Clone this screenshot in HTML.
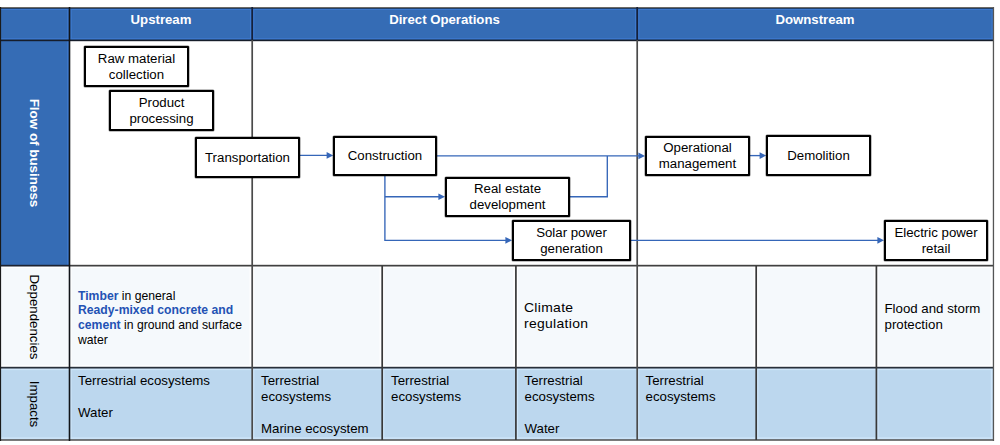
<!DOCTYPE html>
<html><head><meta charset="utf-8">
<style>
html,body{margin:0;padding:0;}
body{width:1000px;height:445px;position:relative;overflow:hidden;background:#fff;font-family:"Liberation Sans",sans-serif;color:#000;}
.a{position:absolute;}
.bg{position:absolute;}
.ln{position:absolute;background:#4a4a4a;}
.dk{background:#1b2233;}
.box{position:absolute;box-sizing:border-box;border:2px solid #000;background:#fff;display:flex;align-items:center;justify-content:center;text-align:center;font-size:13.25px;line-height:16px;border-radius:1px;box-shadow:0 0 0 0.5px rgba(0,0,0,.5);}
.hd{position:absolute;top:12px;height:16px;line-height:16px;color:#fff;font-weight:bold;font-size:13.2px;text-align:center;white-space:nowrap;}
.rot{position:absolute;height:16px;line-height:16px;text-align:center;white-space:nowrap;transform:rotate(90deg);}
.tx{position:absolute;font-size:13.28px;line-height:15.9px;white-space:nowrap;}
.b{color:#2352b4;font-weight:bold;}
</style></head><body>
<!-- backgrounds -->
<div class="bg" style="left:0;top:7px;width:994px;height:33px;background:#356cb5"></div>
<div class="bg" style="left:0;top:40px;width:70px;height:226px;background:#356cb5"></div>
<div class="bg" style="left:0;top:266px;width:994px;height:102px;background:#f5f9fc"></div>
<div class="bg" style="left:0;top:368px;width:994px;height:72px;background:#bcd7ee"></div>

<!-- grid lines -->
<svg class="a" style="left:0;top:0" width="1000" height="445" viewBox="0 0 1000 445">
<!-- dep row white bands / impacts highlight -->
<g fill="#ffffff">
<rect x="0" y="266.4" width="993" height="1.6"/>
<rect x="70.2" y="266" width="1.4" height="101"/>
<rect x="249.6" y="266" width="1.4" height="101"/>
<rect x="253" y="266" width="1.3" height="101"/>
<rect x="379.6" y="266" width="1.4" height="101"/>
<rect x="383" y="266" width="1.3" height="101"/>
<rect x="513.3" y="266" width="1.4" height="101"/>
<rect x="516.8" y="266" width="1.3" height="101"/>
<rect x="634.6" y="266" width="1.4" height="101"/>
<rect x="638" y="266" width="1.3" height="101"/>
<rect x="753.6" y="266" width="1.4" height="101"/>
<rect x="757" y="266" width="1.3" height="101"/>
<rect x="873.8" y="266" width="1.4" height="101"/>
<rect x="877.2" y="266" width="1.3" height="101"/>
<rect x="990.6" y="266" width="1.8" height="101"/>
<rect x="0" y="365.2" width="993" height="1.4"/>
</g>
<g fill="#cfe6fa">
<rect x="0" y="368.5" width="993" height="1.6"/>
<rect x="70.2" y="368" width="1.4" height="71"/>
<rect x="253" y="368" width="1.3" height="71"/>
<rect x="383" y="368" width="1.3" height="71"/>
<rect x="516.8" y="368" width="1.3" height="71"/>
<rect x="638" y="368" width="1.3" height="71"/>
<rect x="757" y="368" width="1.3" height="71"/>
<rect x="877.2" y="368" width="1.3" height="71"/>
<rect x="990.8" y="368" width="1.6" height="71"/>
<rect x="0" y="437.4" width="993" height="1.4"/>
</g>
<!-- header highlight -->
<g fill="#3d79cf">
<rect x="0" y="9" width="993" height="1"/>
<rect x="0" y="38.2" width="993" height="1.2"/>
<rect x="67.2" y="9" width="1.2" height="30"/>
<rect x="70.5" y="9" width="1.2" height="30"/>
<rect x="67.2" y="41" width="1.2" height="224"/>
<rect x="250" y="9" width="1.2" height="30"/>
<rect x="253.2" y="9" width="1.2" height="30"/>
<rect x="635" y="9" width="1.2" height="30"/>
<rect x="638.2" y="9" width="1.2" height="30"/>
<rect x="991.5" y="9" width="1.2" height="30"/>
</g>
<!-- top edge -->
<rect x="0" y="7" width="994" height="1" fill="#6c6a66"/>
<rect x="0" y="8" width="994" height="1" fill="#22406a"/>
<!-- horizontals -->
<rect x="0" y="39.6" width="994" height="1.6" fill="#161d2a"/>
<rect x="0" y="264.8" width="70" height="1.7" fill="#1c2230"/>
<rect x="70" y="264.8" width="924" height="1.7" fill="#404040"/>
<rect x="0" y="366.8" width="994" height="1.7" fill="#28303a"/>
<rect x="0" y="439.2" width="994" height="1.6" fill="#5a5a5a"/>
<!-- verticals -->
<rect x="0" y="7" width="1.1" height="434" fill="#1a1a1a"/>
<rect x="68.7" y="7" width="1.6" height="434" fill="#111418"/>
<rect x="251.35" y="7" width="1.7" height="33" fill="#15203a"/>
<rect x="636.35" y="7" width="1.7" height="33" fill="#15203a"/>
<rect x="251.35" y="40" width="1.7" height="400" fill="#4a4a4a"/>
<rect x="636.35" y="40" width="1.7" height="400" fill="#4a4a4a"/>
<rect x="992.8" y="7" width="1.3" height="434" fill="#555"/>
<rect x="381.35" y="266" width="1.7" height="174" fill="#383838"/>
<rect x="515.05" y="266" width="1.7" height="174" fill="#383838"/>
<rect x="755.35" y="266" width="1.7" height="174" fill="#383838"/>
<rect x="875.55" y="266" width="1.7" height="174" fill="#383838"/>
</svg>

<!-- header text -->
<div class="hd" style="left:70px;width:182px">Upstream</div>
<div class="hd" style="left:252px;width:385px">Direct Operations</div>
<div class="hd" style="left:637px;width:356px">Downstream</div>

<!-- row labels -->
<div class="rot" style="left:-26px;top:145px;width:120px;color:#fff;font-weight:bold;font-size:13.4px">Flow of business</div>
<div class="rot" style="left:-25.6px;top:309px;width:120px;font-size:13.3px">Dependencies</div>
<div class="rot" style="left:-26px;top:396px;width:120px;font-size:13.3px">Impacts</div>

<!-- connectors -->
<svg class="a" style="left:0;top:0" width="1000" height="445" viewBox="0 0 1000 445">
<g stroke="#3566b8" stroke-width="1.35" fill="none">
<path d="M300 155.3 L328 155.4"/>
<path d="M437 155.9 L640 155.9"/>
<path d="M384.9 175 L384.9 240.35 L507 240.35"/>
<path d="M384.9 196.7 L440 196.7"/>
<path d="M569 196.7 L607.3 196.7 L607.3 155.9"/>
<path d="M631 240.35 L879 240.35"/>
<path d="M749 155.6 L761 155.6"/>
</g>
<g fill="#3566b8">
<path d="M326.6 152 L333.2 155.4 L326.6 158.8 Z"/>
<path d="M638.4 152.6 L645 155.9 L638.4 159.2 Z"/>
<path d="M438.4 193.4 L445 196.7 L438.4 200 Z"/>
<path d="M505.4 237 L512 240.35 L505.4 243.7 Z"/>
<path d="M877.4 237 L884 240.35 L877.4 243.7 Z"/>
<path d="M759.6 152.3 L766.2 155.6 L759.6 158.9 Z"/>
</g>
</svg>

<!-- boxes -->
<div class="box" style="left:84px;top:46px;width:105px;height:41px">Raw material<br>collection</div>
<div class="box" style="left:109px;top:90px;width:105px;height:41px">Product<br>processing</div>
<div class="box" style="left:195px;top:137px;width:105px;height:41px">Transportation</div>
<div class="box" style="left:333px;top:136px;width:104px;height:40px">Construction</div>
<div class="box" style="left:445px;top:177px;width:125px;height:40px">Real estate<br>development</div>
<div class="box" style="left:512px;top:220px;width:119px;height:41px">Solar power<br>generation</div>
<div class="box" style="left:645px;top:136px;width:105px;height:40px">Operational<br>management</div>
<div class="box" style="left:766px;top:135px;width:105px;height:41px">Demolition</div>
<div class="box" style="left:884px;top:220px;width:104px;height:41px">Electric power<br>retail</div>

<!-- dependencies text -->
<div class="tx" style="left:78px;top:288.7px;font-size:12.2px;line-height:14.8px"><span class="b">Timber</span> in general<br><span class="b">Ready-mixed concrete and</span><br><span class="b">cement</span> in ground and surface<br>water</div>
<div class="tx" style="left:524px;top:300.2px;font-size:13.4px;line-height:16px;letter-spacing:0.3px;transform:scaleX(1.04);transform-origin:0 0">Climate<br>regulation</div>
<div class="tx" style="left:884.5px;top:300.8px;line-height:16px">Flood and storm<br>protection</div>

<!-- impacts text -->
<div class="tx" style="left:78px;top:373.2px">Terrestrial ecosystems<br><br>Water</div>
<div class="tx" style="left:261px;top:373.2px">Terrestrial<br>ecosystems<br><br>Marine ecosystem</div>
<div class="tx" style="left:391px;top:373.2px">Terrestrial<br>ecosystems</div>
<div class="tx" style="left:524.5px;top:373.2px">Terrestrial<br>ecosystems<br><br>Water</div>
<div class="tx" style="left:645.5px;top:373.2px">Terrestrial<br>ecosystems</div>
</body></html>
